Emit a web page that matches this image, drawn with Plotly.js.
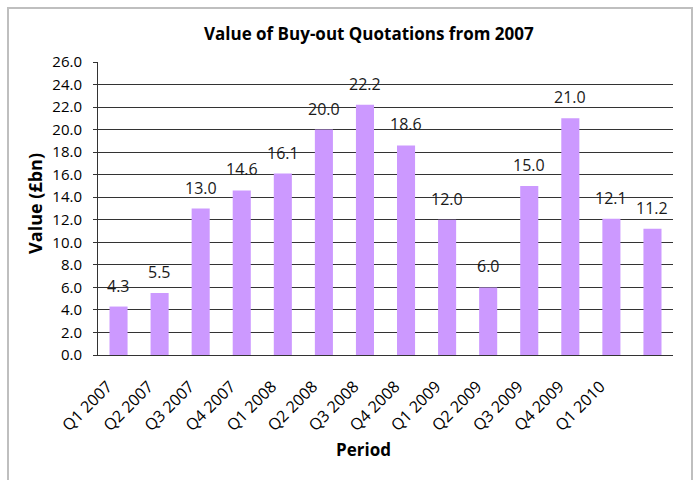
<!DOCTYPE html>
<html>
<head>
<meta charset="utf-8">
<script src="https://cdn.plot.ly/plotly-3.0.1.min.js"></script>
<style>
html,body{margin:0;padding:0;background:#fff;}
#frame{position:absolute;left:7px;top:7px;width:686px;height:480px;border:2px solid #bfbfbf;box-sizing:border-box;}
#chart{position:absolute;left:0;top:0;width:695px;height:480px;}
</style>
</head>
<body>
<div id="chart"></div>
<div id="frame"></div>
<script>
const periods = ["Q1 2007","Q2 2007","Q3 2007","Q4 2007","Q1 2008","Q2 2008","Q3 2008","Q4 2008","Q1 2009","Q2 2009","Q3 2009","Q4 2009","Q1 2010",""];
const values = [4.3,5.5,13.0,14.6,16.1,20.0,22.2,18.6,12.0,6.0,15.0,21.0,12.1,11.2];
const yTicks = [0,2,4,6,8,10,12,14,16,18,20,22,24,26];

const idx = values.map((v,i)=>i);
const font = "Open Sans, Noto Sans, DejaVu Sans, sans-serif";

const trace = {
  type: "bar",
  x: idx,
  y: values,
  marker: {color: "#cc99ff"},
  hoverinfo: "none"
};

const annotations = values.map((v,i)=>({
  x: i, y: v, xref: "x", yref: "y",
  text: v.toFixed(1), showarrow: false,
  yanchor: "bottom", yshift: 8,
  font: {family: font, size: 16, color: "#1a1a1a"}
}));

annotations.push({
  text: "<b>Value (£bn)</b>", showarrow: false, textangle: -90,
  xref: "paper", yref: "paper", x: -0.1096, y: 0.519,
  xanchor: "center", yanchor: "middle",
  font: {family: font, size: 18, color: "#000"}
});
annotations.push({
  text: "<b>Period</b>", showarrow: false,
  xref: "paper", yref: "paper", x: 0.4626, y: -0.324,
  xanchor: "center", yanchor: "middle",
  font: {family: font, size: 17, color: "#000"}
});

const layout = {
  width: 695, height: 480,
  margin: {l: 98, r: 22, t: 62, b: 125},
  paper_bgcolor: "#fff", plot_bgcolor: "#fff",
  bargap: 0.56,
  showlegend: false,
  title: {text: "<b>Value of Buy-out Quotations from 2007</b>", x: 0.471, xref: "paper", xanchor: "center", y: 0.93, yref: "container", yanchor: "middle",
          font: {family: font, size: 17, color: "#000"}},
  xaxis: {
    range: [-0.5, 13.5],
    tickmode: "array",
    tickvals: idx,
    ticktext: periods,
    tickangle: -45,
    ticks: "",
    ticklabelshift: -11,
    ticklabelstandoff: 15,
    showgrid: false,
    showline: true, linecolor: "#333", linewidth: 1,
    tickfont: {family: font, size: 16, color: "#000"},
    fixedrange: true
  },
  yaxis: {
    range: [0, 26],
    tickmode: "array",
    tickvals: yTicks,
    ticktext: yTicks.map(t=>t.toFixed(1)),
    ticks: "outside", ticklen: 4, tickcolor: "#333",
    ticklabelstandoff: 8,
    showgrid: true, gridcolor: "#333", gridwidth: 1,
    showline: true, linecolor: "#333", linewidth: 1,
    zeroline: false,
    tickfont: {family: font, size: 15, color: "#000"},
    fixedrange: true
  },
  annotations: annotations
};

Plotly.newPlot("chart", [trace], layout, {displayModeBar: false, staticPlot: true});
</script>
</body>
</html>
